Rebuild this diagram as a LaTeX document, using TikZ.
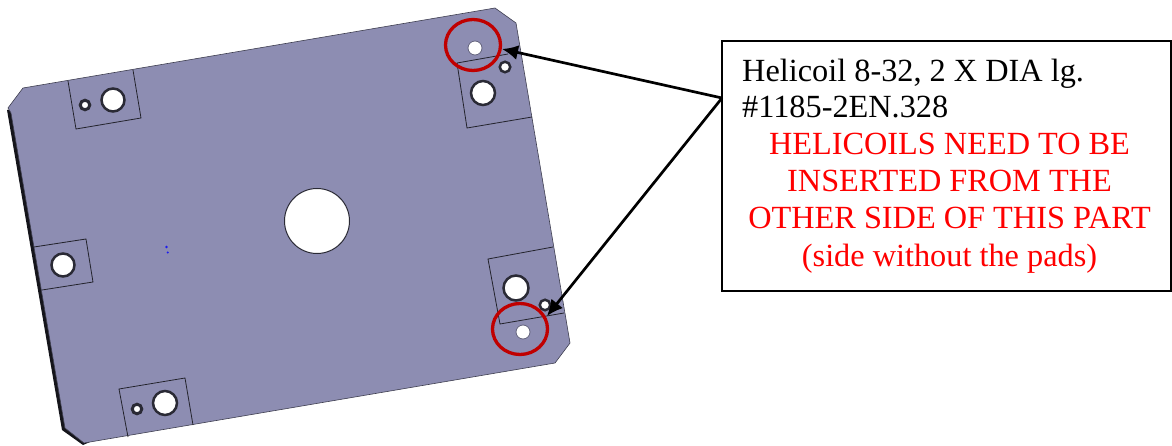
\documentclass[tikz,border=0pt]{standalone}
\usepackage{fontspec}
\setmainfont{Liberation Serif}
\usetikzlibrary{shapes,arrows.meta}
\definecolor{plate}{RGB}{141,141,178}
\definecolor{ringred}{RGB}{192,0,0}
\tikzstyle{pad} = [draw=black!75!plate, line width=0.8pt]
\tikzstyle{hole} = [circle, draw=black!70!plate, fill=white, line width=2.5pt, inner sep=0pt, outer sep=0pt, minimum size=23pt]
\tikzstyle{smallhole} = [hole, line width=3pt, minimum size=9.5pt]
\tikzstyle{helicoil} = [circle, draw=black!30!plate, fill=white, line width=0.8pt, inner sep=0pt, minimum size=14pt]
\tikzstyle{ring} = [ellipse, draw=ringred, line width=3.3pt, inner sep=0pt, minimum width=55pt, minimum height=51pt]
\tikzstyle{textline} = [inner sep=0pt, font=\fontsize{32.3pt}{37pt}\selectfont]
\tikzstyle{line} = [draw, line width=2.7pt, -{Latex[length=16pt,width=15pt]}]

\begin{document}
\begin{tikzpicture}[x=1pt, y=-1pt]
	\useasboundingbox (0,0) rectangle (1172,446);

	% plate
	\fill [black!85!plate] (7,110) -- (62,430) -- (83,445) -- (90,442) -- (12,110) -- cycle;
	\filldraw [fill=plate, draw=black!55!plate, line width=0.6pt] (8,108) -- (23,88) -- (495,8) -- (516,23)
		-- (570,343) -- (555,363) -- (84,443) -- (65,428) -- (11,113) -- cycle;

	% pads
	\draw [pad] (68,81) -- (76,129) -- (141,118) -- (133,70);
	\draw [pad] (34,247) -- (86,239) -- (93,282) -- (42,290);
	\draw [pad] (128,437) -- (119,389) -- (185,378) -- (193,425);
	\draw [pad] (508,54) -- (457,63) -- (467,128) -- (532,117);
	\draw [pad] (553,247) -- (488,259) -- (500,324) -- (564,313);

	% holes
	\node [hole, minimum size=65pt, line width=1pt] (centre) at (317,221) {};
	\node [hole] (h1) at (113,100) {};
	\node [smallhole] (h2) at (85,105) {};
	\node [hole] (h3) at (63,265) {};
	\node [hole, minimum size=24pt] (h4) at (165,403) {};
	\node [smallhole] (h5) at (137,409) {};
	\node [hole, minimum size=24pt] (h6) at (483,93) {};
	\node [smallhole, minimum size=10.5pt, line width=2.5pt] (h7) at (505,67) {};
	\node [hole, minimum size=25pt] (h8) at (516,288) {};
	\node [smallhole, minimum size=10.5pt, line width=2.5pt] (h9) at (545,305) {};
	\node [helicoil] (top) at (475,48) {};
	\node [helicoil] (bottom) at (523,332) {};

	% red rings
	\node [ring] (ringtop) at (473,45) {};
	\node [ring] (ringbottom) at (520,329) {};

	% stray mark
	\fill [blue!80!plate] (166.5,247) circle (1.3pt) (167.7,252.5) circle (1.1pt);

	% note
	\node [draw=black, line width=1.5pt, minimum width=449pt, minimum height=250pt, inner sep=0pt, outer sep=0pt, anchor=north west] (note) at (722,41) {};
	\node [textline, anchor=base west] (l1) at (742,81.5) {Helicoil 8-32, 2 X DIA lg.};
	\node [textline, anchor=base west] (l2) at (742,118) {\#1185-2EN.328};
	\node [textline, anchor=base, text=red] (l3) at (949.5,155) {HELICOILS NEED TO BE};
	\node [textline, anchor=base, text=red] (l4) at (949.5,192) {INSERTED FROM THE};
	\node [textline, anchor=base, text=red] (l5) at (949.5,229) {OTHER SIDE OF THIS PART};
	\node [textline, anchor=base, text=red] (l6) at (949.5,266) {(side without the pads)};

	\coordinate (tiptop) at (502,49);
	\coordinate (tipbottom) at (547,316);
	\coordinate (start) at (722,98);
	\path [line] (start) -- (tiptop);
	\path [line] (start) -- (tipbottom);
\end{tikzpicture}
\end{document}
